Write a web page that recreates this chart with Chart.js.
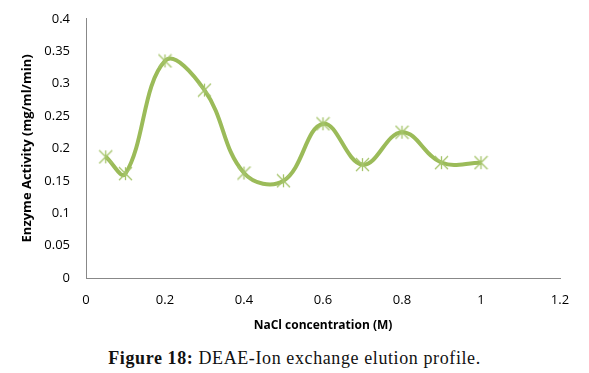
<!DOCTYPE html>
<html lang="en">
<head>
    <meta charset="UTF-8">
    <title>DEAE-Ion exchange elution profile</title>
    <style>
        html, body { margin: 0; padding: 0; background: #fff; overflow: hidden; }
        #wrap { position: relative; width: 589px; height: 373px; }
        #chart_box { position: absolute; left: 0; top: -5px; width: 589px; height: 345px; }
        #caption {
            position: absolute; left: 0; top: 348px; width: 589px; text-align: center;
            font-family: "Liberation Serif", "DejaVu Serif", serif; font-size: 18px; color: #111;
            letter-spacing: 0.6px;
        }
    </style>
</head>
<body>
<div id="wrap">
    <div id="chart_box"><canvas id="elution_canvas"></canvas></div>
    <div id="caption"><b>Figure 18:</b> DEAE-Ion exchange elution profile.</div>
</div>
<script src="https://cdn.jsdelivr.net/npm/chart.js@4.2.0/dist/chart.umd.min.js"></script>
<script>
    // values
    const nacl = [0.05, 0.1, 0.2, 0.3, 0.4, 0.5, 0.6, 0.7, 0.8, 0.9, 1.0];
    const activity = [0.187, 0.161, 0.335, 0.290, 0.162, 0.150, 0.238, 0.175, 0.225, 0.178, 0.178];
    const xTicks = [0, 0.2, 0.4, 0.6, 0.8, 1, 1.2];
    const yTicks = [0, 0.05, 0.1, 0.15, 0.2, 0.25, 0.3, 0.35, 0.4];

    const lineColor = '#9bbb59';

    // excel style star marker: an X with a vertical bar
    function starMarker(size, color) {
        const c = document.createElement('canvas');
        c.width = size; c.height = size;
        const g = c.getContext('2d');
        g.strokeStyle = color;
        g.lineWidth = 1.3;
        const m = size / 2, r = size / 2 - 1;
        g.beginPath();
        g.moveTo(m - r, m - r); g.lineTo(m + r, m + r);
        g.moveTo(m + r, m - r); g.lineTo(m - r, m + r);
        g.moveTo(m, m - r); g.lineTo(m, m + r);
        g.stroke();
        return c;
    }

    const points = nacl.map((x, i) => ({x: x, y: activity[i]}));
    const tickFont = {family: "'Open Sans', 'Liberation Sans', sans-serif", size: 13};
    const titleFont = {family: "'Open Sans', 'Liberation Sans', sans-serif", size: 12, weight: 'bold'};

    const ctx = document.getElementById('elution_canvas').getContext('2d');
    const chart = new Chart(ctx, {
        type: 'scatter',
        data: {
            datasets: [{
                data: points,
                showLine: true,
                borderColor: lineColor,
                borderWidth: 4,
                tension: 0.4,
                pointStyle: starMarker(15, '#a5c46a'),
                pointRadius: 7,
                fill: false
            }]
        },
        options: {
            responsive: true,
            maintainAspectRatio: false,
            animation: false,
            layout: {padding: {left: 0, right: 29, top: 7, bottom: 0}},
            plugins: {legend: {display: false}, tooltip: {enabled: false}},
            scales: {
                x: {
                    type: 'linear',
                    min: 0, max: 1.2,
                    afterBuildTicks: s => { s.ticks = xTicks.map(v => ({value: v})); },
                    afterFit: s => { s.height = 62; },
                    grid: {display: false, drawTicks: false},
                    border: {color: '#888', width: 1},
                    ticks: {font: tickFont, color: '#000', padding: 14, maxRotation: 0,
                        callback: v => String(v)},
                    title: {display: true, text: 'NaCl concentration (M)', font: titleFont, color: '#000',
                        padding: {top: 4, bottom: 7}}
                },
                y: {
                    min: 0, max: 0.4,
                    afterBuildTicks: s => { s.ticks = yTicks.map(v => ({value: v})); },
                    afterFit: s => { s.width = 86; },
                    grid: {display: false, drawTicks: false},
                    border: {color: '#888', width: 1},
                    ticks: {font: tickFont, color: '#000', padding: 16, callback: v => String(v)},
                    title: {display: true, text: 'Enzyme Activity (mg/ml/min)', color: '#000',
                        font: Object.assign({}, titleFont, {size: 13}),
                        padding: {top: 19, bottom: 0}}
                }
            }
        }
    });
</script>
</body>
</html>
